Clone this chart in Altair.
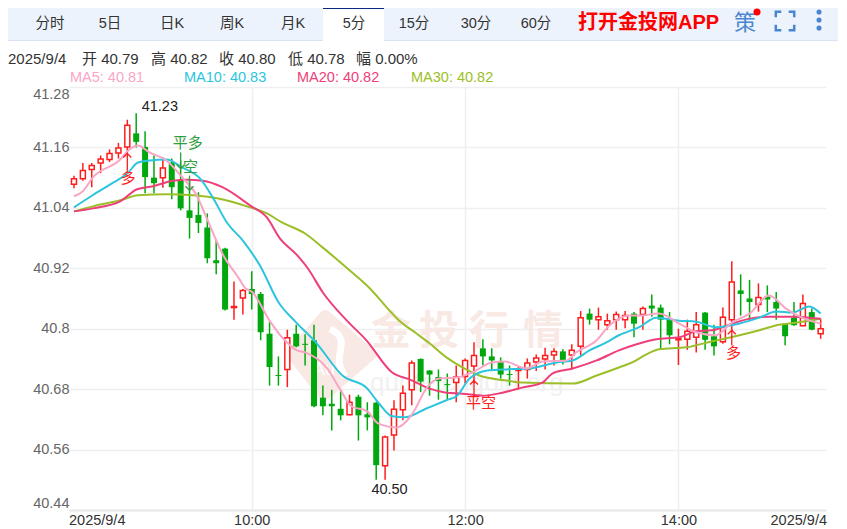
import altair as alt
import pandas as pd

FONT = 'Liberation Sans, Noto Sans CJK SC'
LEFT, TOP = 69, 87   # plot corner on the page
RED, GREEN = '#ff1c1c', '#00a80e'

# 5 minute bars
opens = [41.087, 41.098, 41.116, 41.129, 41.136, 41.149, 41.161, 41.188, 41.161, 41.100,
         41.100, 41.130, 41.096, 41.035, 41.026, 41.001, 40.936, 40.959, 40.842, 40.861,
         40.879, 40.869, 40.790, 40.708, 40.719, 40.790, 40.770, 40.777, 40.663, 40.651,
         40.641, 40.629, 40.665, 40.630, 40.653, 40.528, 40.589, 40.639, 40.679, 40.740,
         40.717, 40.704, 40.690, 40.693, 40.705, 40.726, 40.761, 40.745, 40.734, 40.710,
         40.717, 40.719, 40.734, 40.740, 40.748, 40.755, 40.748, 40.765, 40.830, 40.818,
         40.808, 40.818, 40.818, 40.830, 40.828, 40.846, 40.842, 40.820, 40.778, 40.779,
         40.783, 40.832, 40.785, 40.774, 40.818, 40.876, 40.860, 40.848, 40.864, 40.853,
         40.810, 40.822, 40.806, 40.833, 40.790]
highs = [41.104, 41.129, 41.129, 41.144, 41.156, 41.169, 41.215, 41.228, 41.192, 41.144,
         41.141, 41.138, 41.134, 41.094, 41.071, 41.029, 40.977, 40.961, 40.894, 40.879,
         40.914, 40.873, 40.813, 40.745, 40.798, 40.808, 40.789, 40.808, 40.687, 40.679,
         40.677, 40.669, 40.669, 40.654, 40.655, 40.588, 40.658, 40.687, 40.737, 40.741,
         40.718, 40.719, 40.711, 40.727, 40.741, 40.773, 40.779, 40.761, 40.743, 40.727,
         40.724, 40.741, 40.749, 40.762, 40.761, 40.759, 40.769, 40.835, 40.840, 40.842,
         40.830, 40.834, 40.835, 40.833, 40.844, 40.868, 40.848, 40.833, 40.800, 40.818,
         40.833, 40.833, 40.808, 40.842, 40.934, 40.908, 40.897, 40.890, 40.886, 40.873,
         40.811, 40.853, 40.868, 40.840, 40.820]
lows = [41.079, 41.094, 41.081, 41.109, 41.131, 41.138, 41.148, 41.160, 41.069, 41.069,
        41.080, 41.057, 41.035, 40.979, 40.990, 40.930, 40.908, 40.836, 40.818, 40.828,
        40.838, 40.777, 40.687, 40.687, 40.684, 40.763, 40.727, 40.644, 40.628, 40.598,
        40.618, 40.628, 40.578, 40.598, 40.500, 40.500, 40.558, 40.618, 40.648, 40.674,
        40.667, 40.659, 40.660, 40.654, 40.691, 40.691, 40.727, 40.716, 40.701, 40.687,
        40.679, 40.701, 40.716, 40.719, 40.727, 40.729, 40.719, 40.747, 40.808, 40.798,
        40.798, 40.798, 40.801, 40.783, 40.798, 40.824, 40.758, 40.769, 40.728, 40.758,
        40.753, 40.758, 40.747, 40.770, 40.797, 40.826, 40.816, 40.834, 40.833, 40.818,
        40.767, 40.806, 40.805, 40.797, 40.780]
closes = [41.098, 41.114, 41.124, 41.137, 41.148, 41.159, 41.204, 41.171, 41.101, 41.089,
          41.119, 41.081, 41.039, 41.020, 41.010, 40.940, 40.930, 40.838, 40.844, 40.876,
          40.869, 40.793, 40.724, 40.706, 40.782, 40.765, 40.768, 40.646, 40.646, 40.646,
          40.628, 40.654, 40.628, 40.624, 40.529, 40.585, 40.640, 40.672, 40.732, 40.695,
          40.709, 40.696, 40.688, 40.704, 40.737, 40.747, 40.745, 40.737, 40.709, 40.708,
          40.718, 40.732, 40.742, 40.747, 40.755, 40.738, 40.757, 40.822, 40.818, 40.824,
          40.816, 40.828, 40.826, 40.810, 40.840, 40.840, 40.818, 40.787, 40.780, 40.795,
          40.808, 40.778, 40.765, 40.823, 40.893, 40.869, 40.853, 40.862, 40.858, 40.840,
          40.785, 40.807, 40.850, 40.798, 40.800]

# moving averages: vertices (bar position, price)
ma5_x = [0, 1, 2.1, 5.2, 6.1, 7.2, 8.5, 10.4, 12.2, 13.8, 14.9, 16.7, 18.7, 19.2, 20.1, 22, 23.5, 25.1, 26,
         28.4, 29.9, 31.2, 33, 34.2, 36.3, 38.1, 39.7, 41.1, 43, 44.8, 47, 48.4, 50.9, 52.7, 55.4, 56.5,
         58.8, 60.2, 62.5, 63.6, 65.8, 68.1, 70, 72.2, 74, 76, 78.2, 80.1, 81.9, 84]
ma5_y = [41.063, 41.073, 41.1, 41.136, 41.154, 41.164, 41.15, 41.134, 41.1, 41.065, 41.021, 40.949, 40.896,
         40.882, 40.872, 40.816, 40.781, 40.757, 40.753, 40.723, 40.681, 40.646, 40.636, 40.612, 40.604,
         40.632, 40.683, 40.701, 40.703, 40.713, 40.733, 40.735, 40.721, 40.735, 40.737, 40.753, 40.777,
         40.806, 40.826, 40.826, 40.83, 40.81, 40.793, 40.787, 40.812, 40.83, 40.866, 40.84, 40.822, 40.81]
ma10_x = [0, 2.1, 4.4, 6, 7.2, 8.5, 10.4, 12.2, 14.2, 15.6, 17.2, 19, 20.9, 23.1, 24.8, 27.3, 30.2, 33, 34.2,
          35.8, 37.2, 39.7, 41.9, 43.1, 44.5, 46.5, 48.2, 51.2, 54.3, 56.1, 58, 59.9, 61.3, 63.6, 65.5,
          68.1, 70, 72.2, 74.8, 77.1, 79, 80.8, 82.7, 84]
ma10_y = [41.041, 41.065, 41.09, 41.108, 41.13, 41.134, 41.136, 41.12, 41.098, 41.061, 41.011, 40.975, 40.926,
          40.85, 40.816, 40.771, 40.707, 40.681, 40.654, 40.626, 40.624, 40.642, 40.658, 40.667, 40.701,
          40.717, 40.719, 40.721, 40.733, 40.737, 40.757, 40.773, 40.787, 40.803, 40.822, 40.816, 40.814,
          40.803, 40.81, 40.822, 40.834, 40.832, 40.844, 40.83]
ma20_x = [0, 2.1, 5.2, 7.1, 8.9, 11.1, 12.7, 14.5, 16.7, 19.8, 21.7, 23.1, 25.1, 26.3, 28, 30.7, 32.9, 35.8,
          37.8, 40, 41.9, 43.7, 46, 48.2, 50.4, 52.7, 53.8, 56.1, 58.8, 61.3, 63.3, 65.5, 68.1, 70, 71.8,
          73.4, 76, 78.2, 80.8, 84]
ma20_y = [41.033, 41.039, 41.053, 41.077, 41.083, 41.094, 41.096, 41.094, 41.081, 41.045, 41.021, 40.981,
          40.946, 40.92, 40.872, 40.816, 40.777, 40.713, 40.699, 40.681, 40.673, 40.671, 40.667, 40.673,
          40.683, 40.693, 40.711, 40.721, 40.737, 40.757, 40.769, 40.779, 40.783, 40.795, 40.797, 40.806,
          40.82, 40.824, 40.824, 40.82]
ma30_x = [0, 2.1, 5.2, 7.2, 10.4, 13.4, 16.1, 19.8, 21.7, 23.4, 26, 28, 31, 33.3, 35.5, 36.6, 38.5, 40, 41.9,
          43.7, 45.6, 48.7, 50.4, 56.1, 58.8, 61.3, 62.8, 64.4, 65.8, 68.9, 71.8, 74.4, 77.1, 79.3, 81.2, 84]
ma30_y = [41.033, 41.043, 41.055, 41.065, 41.067, 41.065, 41.059, 41.041, 41.029, 41.011, 40.989, 40.961,
          40.916, 40.88, 40.836, 40.816, 40.791, 40.771, 40.743, 40.723, 40.707, 40.697, 40.693, 40.691,
          40.707, 40.723, 40.733, 40.749, 40.759, 40.763, 40.775, 40.785, 40.797, 40.808, 40.812, 40.82]

y_ticks = [41.28, 41.16, 41.04, 40.92, 40.8, 40.68, 40.56, 40.44]
x_tick_bars = [20, 44, 68]
x_tick_labels = ['10:00', '12:00', '14:00']

tab_labels = ['分时', '5日', '日K', '周K', '月K', '5分', '15分', '30分', '60分']
tab_centers = [50, 110, 172, 232, 293, 354, 414, 476, 536]
info_labels = ['2025/9/4', '开 40.79', '高 40.82', '收 40.80', '低 40.78', '幅 0.00%']
info_lefts = [8, 82, 151, 219, 288, 356]
ma_labels = ['MA5: 40.81', 'MA10: 40.83', 'MA20: 40.82', 'MA30: 40.82']
ma_lefts = [70, 184, 297, 411]
ma_colors = ['#f9a6c6', '#2cc5dd', '#ee3f7a', '#9bbf28']

# trade marks: bar, arrow tip, arrow tail, label, label bar, label price, colour
signals = [
    (6, 41.148, 41.114, '多', 6.07, 41.100, RED),
    (12, 41.118, 41.150, '平多', 12.8, 41.168, '#2f9e3c'),
    (13, 41.075, 41.104, '空', 13.1, 41.122, '#2f9e3c'),
    (45, 40.697, 40.665, '平空', 45.8, 40.652, RED),
    (74, 40.797, 40.767, '多', 74.2, 40.751, RED),
]
extremes = [('41.23', 9.66, 41.241), ('40.50', 35.5, 40.479)]

bars = pd.DataFrame({'bar': range(85), 'o': opens, 'h': highs, 'l': lows, 'c': closes})
bars['lo'] = bars[['o', 'c']].min(axis=1)
bars['hi'] = bars[['o', 'c']].max(axis=1)
up = bars[bars.c >= bars.o]
down = bars[bars.c < bars.o]
one = pd.DataFrame({'n': [0]})

x_scale = alt.Scale(domain=[-0.56, 84.6], nice=False, zero=False, padding=0)
y_scale = alt.Scale(domain=[40.44, 41.28], nice=False, zero=False, padding=0)
X = alt.X('bar:Q', scale=x_scale, title=None)


def Yq(field):
    return alt.Y(field, scale=y_scale, title=None)


def txt(s, px, py, size=14.5, color='#333333', align='left', weight='normal'):
    return alt.Chart(one).mark_text(
        align=align, baseline='middle', fontSize=size, color=color, fontWeight=weight, font=FONT
    ).encode(x=alt.value(px - LEFT), y=alt.value(py - TOP), text=alt.value(s))


def box(x1, x2, y1, y2, color):
    return alt.Chart(one).mark_rect(color=color).encode(
        x=alt.value(x1 - LEFT), x2=alt.value(x2 - LEFT), y=alt.value(y1 - TOP), y2=alt.value(y2 - TOP)
    )


def glyph(path, px, py, size, color, filled=True, width=2):
    return alt.Chart(one).mark_point(
        shape=path, size=size, filled=filled, color=color, opacity=1, strokeWidth=width
    ).encode(x=alt.value(px - LEFT), y=alt.value(py - TOP))


# grid and axes sit on an invisible base layer
label_expr = '{' + ','.join(f"{b}:'{t}'" for b, t in zip(x_tick_bars, x_tick_labels)) + '}[datum.value]'
base = alt.Chart(bars).mark_rule(opacity=0).encode(
    x=alt.X('bar:Q', scale=x_scale, title=None, axis=alt.Axis(
        values=x_tick_bars, labelExpr=label_expr, grid=True, gridColor='#efefef', gridWidth=1.5,
        ticks=False, domainColor='#e8e8e8', domainWidth=2, labelFontSize=14.5, labelColor='#333333',
        labelFont=FONT, labelPadding=3, labelOverlap=False)),
    y=alt.Y('l:Q', scale=y_scale, title=None, axis=alt.Axis(
        values=y_ticks, format='.4~g', grid=True, gridColor='#efefef', gridWidth=1.5, ticks=False,
        domain=False, labelFlush=True, labelFontSize=14.5, labelColor='#666666', labelFont=FONT,
        labelPadding=0, labelOverlap=False)),
)

# watermark
wm = '#f9e9e5'
watermark = [
    glyph('M-0.2,-0.92 Q-0.12,-1 -0.02,-0.9 L0.94,-0.08 Q1,0 0.92,0.08 L-0.05,0.92 Q-0.15,1 -0.25,0.9 '
          'L-0.92,0.05 Q-1,-0.03 -0.92,-0.1 Z', 331, 355, 9000, wm),
    glyph('M-0.02,-0.55 C0.5,-0.3 -0.05,0 0.3,0.45', 331, 355, 9000, '#ffffff', filled=False, width=7),
    txt('Au', 313, 370, size=18, color='#ffffff'),
    txt('金', 391, 332, size=40, color=wm, align='center', weight='bold'),
    txt('投', 439, 332, size=40, color=wm, align='center', weight='bold'),
    txt('行', 489, 332, size=40, color=wm, align='center', weight='bold'),
    txt('情', 543, 332, size=40, color=wm, align='center', weight='bold'),
    txt('quote.cngold.org', 370, 383, size=26, color='#f1f1f1'),
]

# candles
wick_up = alt.Chart(up).mark_rule(color=RED, strokeWidth=1.5).encode(x=X, y=Yq('l:Q'), y2='h:Q')
wick_down = alt.Chart(down).mark_rule(color=GREEN, strokeWidth=1.5).encode(x=X, y=Yq('l:Q'), y2='h:Q')
body_up = alt.Chart(up).mark_bar(size=5, fill='white', stroke=RED, strokeWidth=1.5, orient='vertical').encode(
    x=X, y=Yq('lo:Q'), y2='hi:Q')
body_down = alt.Chart(down).mark_bar(size=6, color=GREEN, orient='vertical').encode(
    x=X, y=Yq('lo:Q'), y2='hi:Q')

# moving averages
ma_series = [(ma30_x, ma30_y, ma_colors[3]), (ma20_x, ma20_y, ma_colors[2]),
             (ma10_x, ma10_y, ma_colors[1]), (ma5_x, ma5_y, ma_colors[0])]
ma_layers = [
    alt.Chart(pd.DataFrame({'bar': xs, 'v': ys})).mark_line(
        color=color, strokeWidth=2, interpolate='monotone'
    ).encode(x=X, y=Yq('v:Q'))
    for xs, ys, color in ma_series
]

# trade arrows and labels
sig_layers = []
for bar, tip, tail, word, lx, ly, color in signals:
    row = pd.DataFrame({'bar': [bar], 'tip': [tip], 'tail': [tail], 'lx': [lx], 'ly': [ly]})
    path = 'M-1,1 L0,0 L1,1' if tip > tail else 'M-1,-1 L0,0 L1,-1'
    sig_layers.append(alt.Chart(row).mark_rule(color=color, strokeWidth=1.3).encode(
        x=X, y=Yq('tip:Q'), y2='tail:Q'))
    sig_layers.append(alt.Chart(row).mark_point(shape=path, size=64, filled=False, color=color, opacity=1,
                                                strokeWidth=1.3).encode(x=X, y=Yq('tip:Q')))
    sig_layers.append(alt.Chart(row).mark_text(fontSize=15, color=color, font=FONT).encode(
        x=alt.X('lx:Q', scale=x_scale, title=None), y=Yq('ly:Q'), text=alt.value(word)))

ext_layers = [
    alt.Chart(pd.DataFrame({'bar': [bx], 'v': [v]})).mark_text(fontSize=14.5, color='#222222', font=FONT).encode(
        x=X, y=Yq('v:Q'), text=alt.value(t))
    for t, bx, v in extremes
]

# top bar and the lines above the plot
chrome = [
    box(1, 838, 3, 41, '#d9e3f3'),
    box(1, 838, 4, 40, '#edf3fd'),
    box(323, 384, 8, 41, '#ffffff'),
    box(323, 384, 7, 9, '#0b2a82'),
]
chrome += [txt(t, c, 24, align='center') for t, c in zip(tab_labels, tab_centers)]
chrome += [txt(t, c, 59, size=15) for t, c in zip(info_labels, info_lefts)]
chrome += [txt(t, c, 78, size=14.5, color=col) for t, c, col in zip(ma_labels, ma_lefts, ma_colors)]
chrome += [
    txt('打开金投网APP', 578, 23, size=20, color='#ff0000', weight='bold'),
    txt('策', 745, 23, size=22, color='#4a86cf', align='center'),
    glyph('circle', 757, 12, 50, '#ff0000'),
    glyph('M-1,-0.4 L-1,-1 L-0.4,-1 M0.4,-1 L1,-1 L1,-0.4 M1,0.4 L1,1 L0.4,1 M-0.4,1 L-1,1 L-1,0.4',
          785, 21, 340, '#4a86cf', filled=False, width=2.5),
    glyph('circle', 819, 12, 26, '#4a86cf'),
    glyph('circle', 819, 20, 26, '#4a86cf'),
    glyph('circle', 819, 28, 26, '#4a86cf'),
    txt('2025/9/4', 69, 521),
    txt('2025/9/4', 827, 521, align='right'),
]

chart = alt.layer(
    base, *watermark, wick_up, wick_down, body_up, body_down, *ma_layers, *sig_layers, *ext_layers, *chrome
).properties(
    width=757, height=423,
    padding={'left': 61, 'top': 79, 'right': 13, 'bottom': 19},
    autosize=alt.AutoSizeParams(type='none')
).configure_view(stroke=None)

# drop the page's bottom margin so the time labels fit in the window
chart.save('out.html', embed_options={'renderer': 'svg', 'actions': False,
                                      'defaultStyle': 'body{margin:8px 8px 0}svg{display:block}'})
